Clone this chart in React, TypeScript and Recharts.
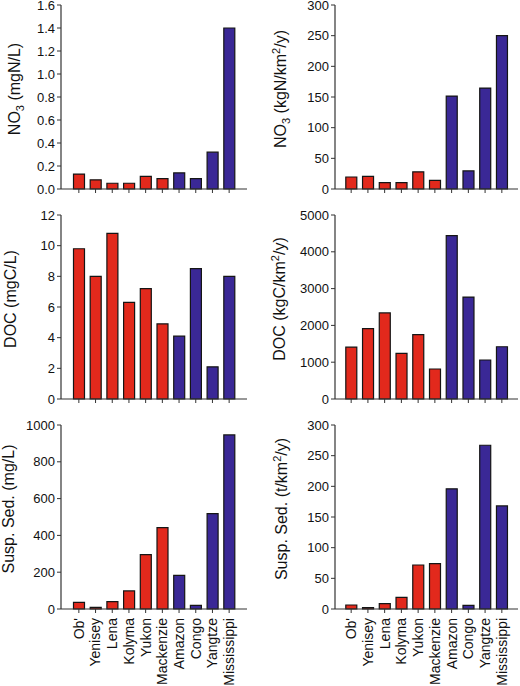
import React from "react";
import { Bar, BarChart, Cell, XAxis, YAxis } from "recharts";

// Rivers: first six are Arctic (red), last four are large non-Arctic rivers (blue)
const rivers = ["Ob'", "Yenisey", "Lena", "Kolyma", "Yukon", "Mackenzie", "Amazon", "Congo", "Yangtze", "Mississippi"];
const arctic = [true, true, true, true, true, true, false, false, false, false];

const no3Conc = [0.13, 0.08, 0.05, 0.05, 0.11, 0.09, 0.14, 0.09, 0.32, 1.4];
const no3Flux = [19.6, 20.5, 10.3, 10.3, 28, 14, 151.5, 29.5, 164.5, 250];
const docConc = [9.8, 8.0, 10.8, 6.3, 7.2, 4.9, 4.1, 8.5, 2.1, 8.0];
const docFlux = [1410, 1910, 2340, 1240, 1750, 815, 4440, 2770, 1060, 1420];
const sedConc = [36, 9, 40, 98, 295, 442, 183, 20, 518, 946];
const sedFlux = [6.5, 2.2, 8.7, 19, 71.7, 73.9, 196, 6, 267, 168];

const no3ConcTicks = [0, 0.2, 0.4, 0.6, 0.8, 1.0, 1.2, 1.4, 1.6];
const no3FluxTicks = [0, 50, 100, 150, 200, 250, 300];
const docConcTicks = [0, 2, 4, 6, 8, 10, 12];
const docFluxTicks = [0, 1000, 2000, 3000, 4000, 5000];
const sedConcTicks = [0, 200, 400, 600, 800, 1000];
const sedFluxTicks = [0, 50, 100, 150, 200, 250, 300];

const RED = "#e2291c";
const BLUE = "#3a2896";
const INK = "#111";
const AXIS = "#333";
const FONT = "'Liberation Sans', Arial, Helvetica, sans-serif";

const PLOT_TOP = 5;
const PLOT_H = 184;

function EmptyTick(): React.ReactElement {
  return <g />;
}

function RiverTick({ x, y, payload }: any): React.ReactElement {
  return (
    <text
      x={x}
      y={y}
      transform={`rotate(-90 ${x} ${y})`}
      textAnchor="end"
      dy="0.35em"
      fontSize={14}
      fontFamily={FONT}
      fill={INK}
    >
      {payload.value}
    </text>
  );
}

interface PanelProps {
  values: number[];
  ticks: number[];
  fmt: (v: number) => string;
  title: React.ReactNode;
  titleX: number;
  col: number;
  row: number;
}

function Panel({ values, ticks, fmt, title, titleX, col, row }: PanelProps): React.ReactElement {
  const data = rivers.map((name, i) => ({ name, v: values[i] }));
  const last = row === 2;
  const height = last ? 266 : 210;
  const plotLeft = col === 0 ? 61 : 75;
  const plotW = col === 0 ? 186 : 183;
  const pad = col === 0 ? 9.5 : 7.8;
  const xH = height - PLOT_TOP - PLOT_H;
  const titleY = PLOT_TOP + PLOT_H / 2 - 8;

  return (
    <div style={{ position: "absolute", left: col * 260, top: row * 210, width: 260, height }}>
      <BarChart
        width={260}
        height={height}
        data={data}
        margin={{ top: PLOT_TOP, right: 260 - plotLeft - plotW, bottom: 0, left: 0 }}
        barCategoryGap={0}
      >
        <XAxis
          dataKey="name"
          type="category"
          height={xH}
          padding={{ left: pad, right: pad }}
          interval={0}
          axisLine={{ stroke: AXIS, strokeWidth: 1.2 }}
          tickLine={{ stroke: AXIS }}
          tickSize={4}
          tickMargin={5}
          tick={last ? RiverTick : EmptyTick}
        />
        <XAxis
          xAxisId="top"
          dataKey="name"
          orientation="top"
          height={0}
          tick={false}
          tickLine={false}
          axisLine={{ stroke: AXIS, strokeWidth: 1.2 }}
        />
        <YAxis
          width={plotLeft}
          domain={[0, ticks[ticks.length - 1]]}
          ticks={ticks}
          interval={0}
          tickFormatter={fmt}
          tickSize={4}
          tickMargin={2}
          tick={{ fontSize: 13, fontFamily: FONT, fill: INK }}
          axisLine={{ stroke: AXIS, strokeWidth: 1.2 }}
          tickLine={{ stroke: AXIS }}
          label={{
            content: () => (
              <text
                transform={`translate(${titleX},${titleY}) rotate(-90)`}
                textAnchor="middle"
                fontSize={16}
                fontFamily={FONT}
                fill={INK}
              >
                {title}
              </text>
            ),
          }}
        />
        <YAxis
          yAxisId="right"
          orientation="right"
          width={0}
          domain={[0, 1]}
          tick={false}
          tickLine={false}
          axisLine={{ stroke: AXIS, strokeWidth: 1.2 }}
        />
        <Bar dataKey="v" barSize={11} stroke="#151515" strokeWidth={1.2} isAnimationActive={false}>
          {data.map((d, i) => (
            <Cell key={d.name} fill={arctic[i] ? RED : BLUE} />
          ))}
        </Bar>
      </BarChart>
    </div>
  );
}

const one = (v: number) => v.toFixed(1);
const int = (v: number) => String(v);

export default function App(): React.ReactElement {
  return (
    <div style={{ position: "absolute", left: 0, top: 0, width: 520, height: 686, background: "#fff", overflow: "hidden" }}>
      <style>{"svg.recharts-surface { overflow: visible; }"}</style>
      <Panel
        values={no3Conc}
        ticks={no3ConcTicks}
        fmt={one}
        col={0}
        row={0}
        titleX={20}
        title={
          <>
            NO<tspan dy={4} fontSize={11}>3</tspan>
            <tspan dy={-4}> (mgN/L)</tspan>
          </>
        }
      />
      <Panel
        values={no3Flux}
        ticks={no3FluxTicks}
        fmt={int}
        col={1}
        row={0}
        titleX={26}
        title={
          <>
            NO<tspan dy={4} fontSize={11}>3</tspan>
            <tspan dy={-4}> (kgN/km</tspan>
            <tspan dy={-6} fontSize={11}>2</tspan>
            <tspan dy={6}>/y)</tspan>
          </>
        }
      />
      <Panel values={docConc} ticks={docConcTicks} fmt={int} col={0} row={1} titleX={16} title="DOC (mgC/L)" />
      <Panel
        values={docFlux}
        ticks={docFluxTicks}
        fmt={int}
        col={1}
        row={1}
        titleX={25}
        title={
          <>
            DOC (kgC/km<tspan dy={-6} fontSize={11}>2</tspan>
            <tspan dy={6}>/y)</tspan>
          </>
        }
      />
      <Panel values={sedConc} ticks={sedConcTicks} fmt={int} col={0} row={2} titleX={14} title="Susp. Sed. (mg/L)" />
      <Panel
        values={sedFlux}
        ticks={sedFluxTicks}
        fmt={int}
        col={1}
        row={2}
        titleX={27}
        title={
          <>
            Susp. Sed. (t/km<tspan dy={-6} fontSize={11}>2</tspan>
            <tspan dy={6}>/y)</tspan>
          </>
        }
      />
    </div>
  );
}
